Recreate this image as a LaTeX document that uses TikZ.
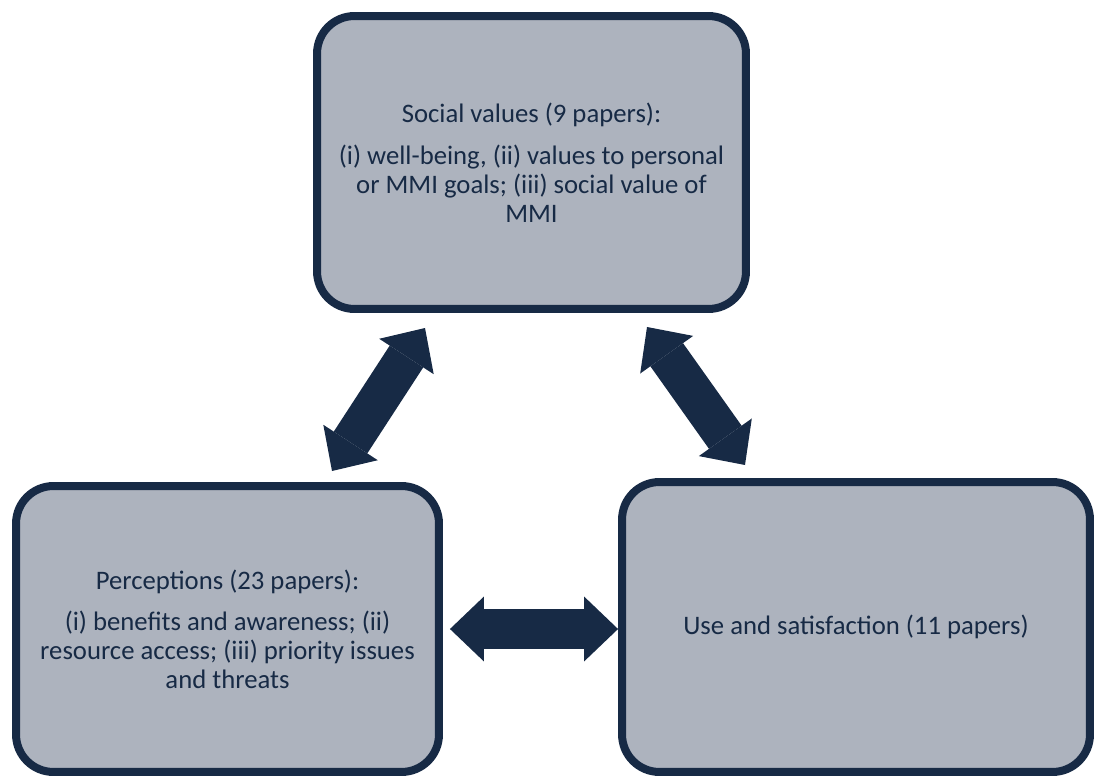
\documentclass[tikz,border=0pt]{standalone}
\usepackage{fontspec}
\setmainfont{Carlito}
\usetikzlibrary{arrows.meta,positioning}
\definecolor{navy}{HTML}{172A45}
\definecolor{boxgray}{HTML}{ADB3BE}

\begin{document}
\begin{tikzpicture}[x=0.02cm,y=-0.02cm,
	box/.style={draw=navy,fill=boxgray,line width=0.16cm,rounded corners=0.75cm,text=navy,align=center,font=\fontsize{15.2}{16.4}\selectfont},
	bigarrow/.style={navy,line width=0.8cm,{Triangle[length=0.68cm,width=1.3cm,line width=0pt]}-{Triangle[length=0.68cm,width=1.3cm,line width=0pt]}}]
		\useasboundingbox (0,0) rectangle (1094,776);
		\node[box,minimum width=8.58cm,minimum height=5.86cm] (soc) at (531.5,162.5) {Social values (9 papers):\\[8pt](i) well-being, (ii) values to personal\\or MMI goals; (iii) social value of\\MMI};
		\node[box,minimum width=8.46cm,minimum height=5.72cm] (per) at (227.5,629) {Perceptions (23 papers):\\[7pt](i) benefits and awareness; (ii)\\resource access; (iii) priority issues\\and threats};
		\node[box,minimum width=9.36cm,minimum height=5.8cm] (use) at (856,627) {Use and satisfaction (11 papers)};
		\coordinate (sl) at (425,328);
		\coordinate (pl) at (332,471);
		\coordinate (sr) at (647,327);
		\coordinate (ur) at (745,465);
		\draw[bigarrow] (pl) -- (sl);
		\draw[bigarrow] (sr) -- (ur);
		\draw[bigarrow] ([xshift=0.14cm]per.east) -- (use.west |- per.east);
	\end{tikzpicture}
\end{document}
